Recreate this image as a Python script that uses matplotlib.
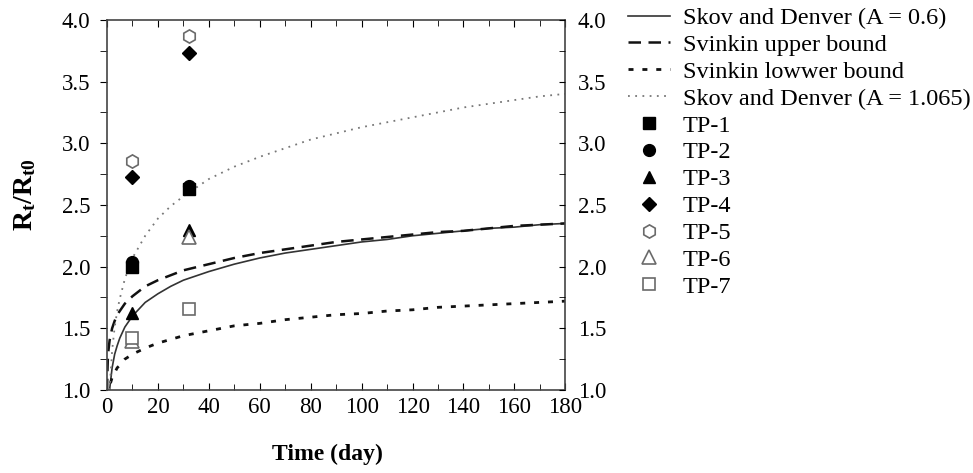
import matplotlib
matplotlib.use("Agg")
import matplotlib.pyplot as plt
from matplotlib.ticker import MultipleLocator

# ---- data ----
t_days = [1, 2, 3, 4, 5, 7, 10, 15, 20, 25, 30, 40, 50, 60, 70, 80, 90, 100,
          110, 120, 130, 140, 150, 160, 170, 180]
skov_06 = [1.00, 1.18, 1.29, 1.36, 1.42, 1.51, 1.60, 1.71, 1.78, 1.84, 1.89, 1.96, 2.02, 2.07, 2.11, 2.14, 2.17, 2.20,
           2.22, 2.25, 2.27, 2.29, 2.31, 2.32, 2.34, 2.35]
skov_1065 = [1.00, 1.32, 1.51, 1.64, 1.74, 1.90, 2.07, 2.25, 2.39, 2.49, 2.57, 2.71, 2.81, 2.89, 2.96, 3.03, 3.08, 3.13,
             3.17, 3.21, 3.25, 3.29, 3.32, 3.35, 3.38, 3.40]

t_svinkin = [0.03, 0.1, 0.3, 0.5, 1, 2, 3, 4, 5, 7, 10, 15, 20, 25, 30, 40, 50, 60, 70, 80, 90, 100,
             110, 120, 130, 140, 150, 160, 170, 180]
svinkin_upper = [0.99, 1.11, 1.24, 1.31, 1.40, 1.50, 1.56, 1.61, 1.64, 1.70, 1.76, 1.84, 1.89, 1.93, 1.97, 2.02, 2.07,
                 2.11, 2.14, 2.17, 2.20, 2.22, 2.24, 2.26, 2.28, 2.29, 2.31, 2.33, 2.34, 2.35]
svinkin_lower = [0.72, 0.81, 0.91, 0.96, 1.03, 1.10, 1.14, 1.18, 1.20, 1.25, 1.29, 1.34, 1.38, 1.41, 1.44, 1.48, 1.52,
                 1.54, 1.57, 1.59, 1.61, 1.62, 1.64, 1.65, 1.67, 1.68, 1.69, 1.70, 1.71, 1.72]

test_days = [10, 32]
tp_names = ["TP-1", "TP-2", "TP-3", "TP-4", "TP-5", "TP-6", "TP-7"]
tp1 = [2.00, 2.63]
tp2 = [2.04, 2.65]
tp3 = [1.62, 2.30]
tp4 = [2.73, 3.73]
tp5 = [2.86, 3.87]
tp6 = [1.40, 2.24]
tp7 = [1.42, 1.66]

x_ticks = [0, 20, 40, 60, 80, 100, 120, 140, 160, 180]
y_ticks = [1.0, 1.5, 2.0, 2.5, 3.0, 3.5, 4.0]

plt.rcParams['font.family'] = ['Liberation Serif', 'DejaVu Serif']
plt.rcParams['mathtext.fontset'] = 'custom'
plt.rcParams['mathtext.rm'] = 'Liberation Serif'
plt.rcParams['mathtext.bf'] = 'Liberation Serif:bold'

fig = plt.figure(figsize=(9.73, 4.73), dpi=100)
ax = fig.add_axes([0.110, 0.1755, 0.471, 0.7825])

h_solid, = ax.plot(t_days, skov_06, color='#333333', lw=1.2, ls='-', label='Skov and Denver (A = 0.6)')
h_up, = ax.plot(t_svinkin, svinkin_upper, color='#111111', lw=1.8, ls=(0, (5, 3)), label='Svinkin upper bound')
h_low, = ax.plot(t_svinkin, svinkin_lower, color='#111111', lw=2.0, ls=(0, (1.8, 3.2)),
                 dash_capstyle='butt', label='Svinkin lowwer bound')
h_dot, = ax.plot(t_days, skov_1065, color='#777777', lw=1.3, ls=(0, (1, 3)), label='Skov and Denver (A = 1.065)')

ms = 8.5
m1, = ax.plot(test_days, tp1, ls='none', marker='s', color='black', ms=ms, label=tp_names[0])
m2, = ax.plot(test_days, tp2, ls='none', marker='o', color='black', ms=ms, label=tp_names[1])
m3, = ax.plot(test_days, tp3, ls='none', marker='^', color='black', ms=ms, label=tp_names[2])
m4, = ax.plot(test_days, tp4, ls='none', marker='D', color='black', ms=ms - 1, label=tp_names[3])
m5, = ax.plot(test_days, tp5, ls='none', marker='h', mfc='white', mec='#6a6a6a', mew=1.2, ms=ms + 1, label=tp_names[4])
m6, = ax.plot(test_days, tp6, ls='none', marker='^', mfc='white', mec='#6a6a6a', mew=1.2, ms=ms + 1, label=tp_names[5])
m7, = ax.plot(test_days, tp7, ls='none', marker='s', mfc='white', mec='#6a6a6a', mew=1.2, ms=ms, label=tp_names[6])

ax.set_xlim(0, 180)
ax.set_ylim(1.0, 4.0)
ax.set_xticks(x_ticks)
ax.set_yticks(y_ticks)
ax.xaxis.set_minor_locator(MultipleLocator(10))
ax.yaxis.set_minor_locator(MultipleLocator(0.25))
ax.tick_params(axis='x', which='both', direction='in', top=True, labelsize=16.5, pad=5)
ax.tick_params(axis='x', which='major', length=5)
ax.tick_params(axis='x', which='minor', length=4)
ax.tick_params(axis='y', which='both', direction='out', labelsize=16.5, length=5, pad=7)
ax.set_yticklabels([f"{v:.1f}" for v in y_ticks])
for sp in ax.spines.values():
    sp.set_color('#444444')
    sp.set_linewidth(1.2)

ax2 = ax.twinx()
ax2.set_ylim(1.0, 4.0)
ax2.set_yticks(y_ticks)
ax2.set_yticklabels([f"{v:.1f}" for v in y_ticks])
ax2.yaxis.set_minor_locator(MultipleLocator(0.25))
ax2.tick_params(axis='y', which='both', direction='in', labelsize=16.5, length=4, pad=9)
for sp in ax2.spines.values():
    sp.set_visible(False)

ax.set_xlabel('Time (day)', fontsize=17, fontweight='bold')
ax.xaxis.set_label_coords(0.480, -0.145)
ax.set_ylabel(r'$\mathbf{R_t/R_{t0}}$', fontsize=20)
ax.yaxis.set_label_coords(-0.151, 0.527)

handles = [h_solid, h_up, h_low, h_dot, m1, m2, m3, m4, m5, m6, m7]
fig.legend(handles=handles, loc='upper left', bbox_to_anchor=(0.645, 0.985), frameon=False,
           fontsize=17.5, handlelength=1.73, handletextpad=0.53, labelspacing=0.2,
           borderaxespad=0, borderpad=0)

fig.savefig('out.png', dpi=100)
